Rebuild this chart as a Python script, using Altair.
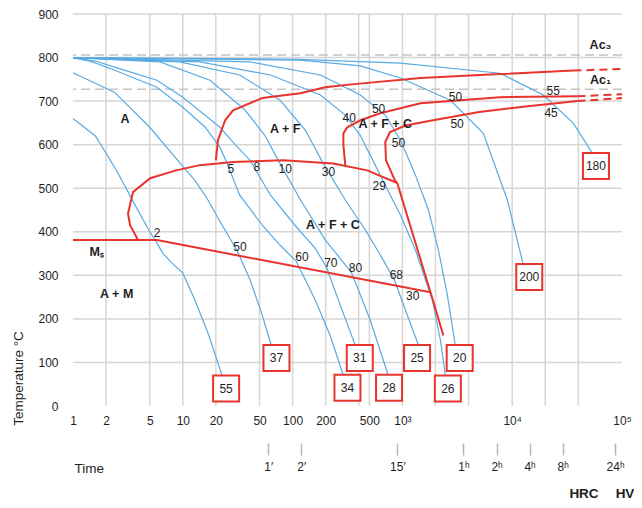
import altair as alt
import pandas as pd

FONT = "Liberation Sans, Arial, sans-serif"
BLUE = "#5aaae3"
RED = "#e8342c"
GRID = "#d6d6d6"
DASH_GRAY = "#c4c4c4"
INK = "#1e1e1e"

# ---------------- axes / reference values ----------------
temp_ticks = [0, 100, 200, 300, 400, 500, 600, 700, 800, 900]
temp_grid = [100, 200, 300, 400, 500, 600, 700, 800, 900]
time_ticks = [1, 2, 5, 10, 20, 50, 100, 200, 500, 1000, 10000, 100000]
time_tick_text = ["1", "2", "5", "10", "20", "50", "100", "200", "500", "10³", "10⁴", "10⁵"]
time_grid = [2, 5, 10, 20, 50, 100, 200, 400, 500, 1000, 2000, 4000, 10000, 20000, 40000]
clock_values = [60, 120, 900, 3600, 7200, 14400, 28800, 86400]
clock_labels = ["1′", "2′", "15′", "1ʰ", "2ʰ", "4ʰ", "8ʰ", "24ʰ"]
ac_names = ["Ac₃", "Ac₁"]
ac_temps = [806, 727]
ac_label_time = [63700, 63700]
ac_label_temp = [829, 748]

# ---------------- cooling curves (time s, temperature °C) ----------------
cooling = {
    "55": ([1, 1.6, 2.5, 3.7, 5, 5.8, 6.6, 8, 10, 12.9, 17, 22.8],
           [660, 620, 540, 460, 400, 375, 350, 328, 305, 243, 167, 70]),
    "37": ([1, 2.4, 5, 10, 12.9, 16.6, 22, 31, 41, 53, 64],
           [765, 720, 640, 550, 518, 477, 422, 358, 290, 208, 139]),
    "34": ([1, 1.5, 2.4, 5.8, 10, 16, 21.8, 25, 33, 53, 77, 108, 161, 220, 290],
           [800, 790, 771, 732, 686, 640, 594, 560, 484, 415, 369, 332, 243, 162, 70]),
    "31": ([1, 1.6, 2.4, 5.8, 10, 21.8, 30, 41, 63, 105, 161, 203, 272, 373],
           [800, 792, 778, 748, 709, 640, 600, 564, 484, 415, 362, 319, 231, 139]),
    "28": ([1, 6.2, 17.7, 37, 56, 74, 118, 199, 343, 510, 744],
           [800, 790, 748, 679, 621, 564, 473, 381, 307, 197, 70]),
    "25": ([1, 9.4, 33, 77, 131, 187, 302, 460, 670, 847, 1067, 1404],
           [800, 790, 760, 702, 633, 560, 473, 404, 335, 289, 220, 139]),
    "26": ([1, 14.3, 63, 179, 302, 414, 566, 698, 962, 1315, 1623, 1880, 2220, 2463],
           [800, 790, 760, 714, 668, 621, 553, 507, 438, 358, 289, 243, 151, 70]),
    "20": ([1, 41, 179, 414, 698, 962, 1315, 1727, 2130, 2570, 3034],
           [800, 790, 760, 714, 668, 610, 530, 450, 358, 254, 139]),
    "200": ([1, 118, 414, 962, 2737, 5460, 9040, 12600],
            [800, 794, 781, 753, 702, 626, 473, 325]),
    "180": ([1, 117, 962, 7730, 19230, 36100, 53800],
            [800, 796, 787, 764, 714, 649, 580]),
}

# ---------------- transformation lines ----------------
phase_solid = {
    "ferrite_start": ([20, 20.9, 24.3, 28.7, 52.9, 117.6, 198, 364, 1463, 7730, 36100],
                      [564, 610, 656, 679, 707, 718, 732, 739, 753, 762, 770]),
    "nose": ([3.91, 3.31, 3.17, 3.52, 5.04, 8.69, 14.3, 28.7, 82.1, 234.5, 478.6, 898],
             [381, 415, 442, 491, 523, 541, 553, 560, 564, 557, 541, 512]),
    "pearlite_start": ([302, 290, 290, 315, 414, 628, 1463, 7730, 39300],
                       [553, 599, 626, 640, 656, 672, 695, 709, 711]),
    "pearlite_end": ([898, 855, 709, 698, 771, 1067, 1900, 5010, 14600, 39300],
                     [512, 518, 564, 606, 629, 644, 656, 675, 689, 700]),
    "bainite_end": ([898, 1802, 2360], [512, 261, 162]),
    "Ms": ([1, 5.82, 1802], [381, 381, 261]),
}
phase_dashed = {
    "ferrite_start": ([36100, 100000], [770, 774]),
    "pearlite_start": ([39300, 100000], [711, 716]),
    "pearlite_end": ([39300, 100000], [700, 707]),
}

# ---------------- annotations ----------------
num_text = ["2", "50", "60", "70", "80", "68", "30", "5", "8", "10", "30", "29",
            "40", "50", "50", "50", "50", "55", "45"]
num_time = [5.82, 33.1, 121.5, 223, 373, 880, 1240, 27.4, 47.3, 85.6, 212, 615,
            328, 607, 922, 3040, 3150, 23600, 22600]
num_temp = [397, 366, 341, 328, 317, 300, 253, 543, 549, 545, 538, 505,
            662, 683, 604, 710, 647, 724, 673]

phase_text = ["A", "A + F", "A + F + C", "A + F + C", "Mₛ", "A + M"]
phase_time = [2.98, 85.6, 698, 233, 1.64, 2.5]
phase_temp = [660, 637, 647, 415, 354, 258]

hard_text = ["55", "37", "34", "31", "28", "25", "20", "26", "200", "180"]
hard_time = [24.8, 71.3, 316, 409, 756, 1360, 3325, 2594, 14300, 57900]
hard_temp = [40, 110, 42, 110, 42, 110, 110, 40, 296, 551]


def frame(curves):
    rows = []
    for name, (ts, Ts) in curves.items():
        for i, (t, T) in enumerate(zip(ts, Ts)):
            rows.append({"curve": name, "i": i, "t": t, "T": T})
    return pd.DataFrame(rows)


xs = alt.Scale(type="log", domain=[1, 100000])
ys = alt.Scale(domain=[0, 900])

y_axis = alt.Axis(values=temp_ticks, grid=False, ticks=False, tickSize=0, domain=False,
                  labelFont=FONT, labelFontSize=12, labelColor=INK, labelPadding=15,
                  title="Temperature °C", titleFont=FONT, titleFontSize=13.5,
                  titleFontWeight="normal", titleColor=INK, titleX=-55, titleY=364,
                  titleAngle=270, titleAlign="center", titleBaseline="middle")

tick_expr = " : ".join(f"datum.value == {v} ? '{s}'" for v, s in zip(time_ticks, time_tick_text)) + " : ''"
x_axis = alt.Axis(values=time_ticks, grid=False, ticks=False, tickSize=0, domain=False,
                  orient="bottom",
                  labelExpr=tick_expr, labelFont=FONT, labelFontSize=12, labelColor=INK,
                  labelPadding=9, labelOverlap=False, labelFlush=False, title=None)

clock_expr = " : ".join(f"datum.value == {v} ? '{s}'" for v, s in zip(clock_values, clock_labels)) + " : ''"
clock_axis = alt.Axis(values=clock_values, grid=False, domain=False, ticks=True, tickSize=12,
                      orient="bottom",
                      tickColor="#b5b5b5", tickWidth=1.5, offset=37, labelExpr=clock_expr,
                      labelFont=FONT, labelFontSize=12, labelColor=INK, labelPadding=6,
                      labelOverlap=False, labelFlush=False, title="Time", titleFont=FONT,
                      titleFontSize=13.5, titleFontWeight="normal", titleColor=INK,
                      titleX=1, titleY=25, titleAlign="left", titleBaseline="middle")


def X(axis=None):
    return alt.X("t:Q", scale=xs, axis=axis)


def Y():
    return alt.Y("T:Q", scale=ys, axis=y_axis)


hgrid = alt.Chart(pd.DataFrame({"T": temp_grid})).mark_rule(
    color=GRID, strokeWidth=1.5).encode(y=Y())
vgrid = alt.Chart(pd.DataFrame({"t": time_grid})).mark_rule(
    color=GRID, strokeWidth=1.5).encode(x=X(x_axis))
ac_lines = alt.Chart(pd.DataFrame({"T": ac_temps})).mark_rule(
    color=DASH_GRAY, strokeWidth=1.5, strokeDash=[9, 5]).encode(y=Y())

blue = alt.Chart(frame(cooling)).mark_line(color=BLUE, strokeWidth=1.2).encode(
    x=X(clock_axis), y=Y(), detail="curve:N", order="i:Q")
red = alt.Chart(frame(phase_solid)).mark_line(color=RED, strokeWidth=2).encode(
    x=X(), y=Y(), detail="curve:N", order="i:Q")
red_dash = alt.Chart(frame(phase_dashed)).mark_line(color=RED, strokeWidth=2, strokeDash=[8, 5]).encode(
    x=X(), y=Y(), detail="curve:N", order="i:Q")

hard_df = pd.DataFrame({"label": hard_text, "t": hard_time, "T": hard_temp})
boxes = alt.Chart(hard_df).mark_square(size=676, filled=True, fill="white", stroke=RED,
                                       strokeWidth=2, opacity=1).encode(x=X(), y=Y())
box_text = alt.Chart(hard_df).mark_text(font=FONT, fontSize=12, color=INK).encode(
    x=X(), y=Y(), text="label:N")

nums = alt.Chart(pd.DataFrame({"label": num_text, "t": num_time, "T": num_temp})).mark_text(
    font=FONT, fontSize=12, color=INK).encode(x=X(), y=Y(), text="label:N")
phases = alt.Chart(pd.DataFrame({"label": phase_text, "t": phase_time, "T": phase_temp})).mark_text(
    font=FONT, fontSize=12.5, fontWeight="bold", color=INK).encode(x=X(), y=Y(), text="label:N")
ac_text = alt.Chart(pd.DataFrame({"label": ac_names, "t": ac_label_time, "T": ac_label_temp})).mark_text(
    font=FONT, fontSize=12.5, fontWeight="bold", color=INK).encode(x=X(), y=Y(), text="label:N")

hrc = alt.Chart(pd.DataFrame({"label": ["HRC"]})).mark_text(
    font=FONT, fontSize=13.5, fontWeight="bold", color=INK).encode(
    x=alt.value(511), y=alt.value(480), text="label:N")
hv = alt.Chart(pd.DataFrame({"label": ["HV"]})).mark_text(
    font=FONT, fontSize=13.5, fontWeight="bold", color=INK).encode(
    x=alt.value(552), y=alt.value(480), text="label:N")

chart = alt.layer(
    hgrid, vgrid, ac_lines, blue, red, red_dash, boxes, box_text, nums, phases, ac_text, hrc, hv
).resolve_axis(x="independent").properties(
    width=549, height=392,
    autosize=alt.AutoSizeParams(type="none"),
    padding={"left": 65, "top": 6, "right": 12, "bottom": 94},
).configure_view(stroke=None)

chart.save("out.html", embed_options={"renderer": "svg", "actions": False})
